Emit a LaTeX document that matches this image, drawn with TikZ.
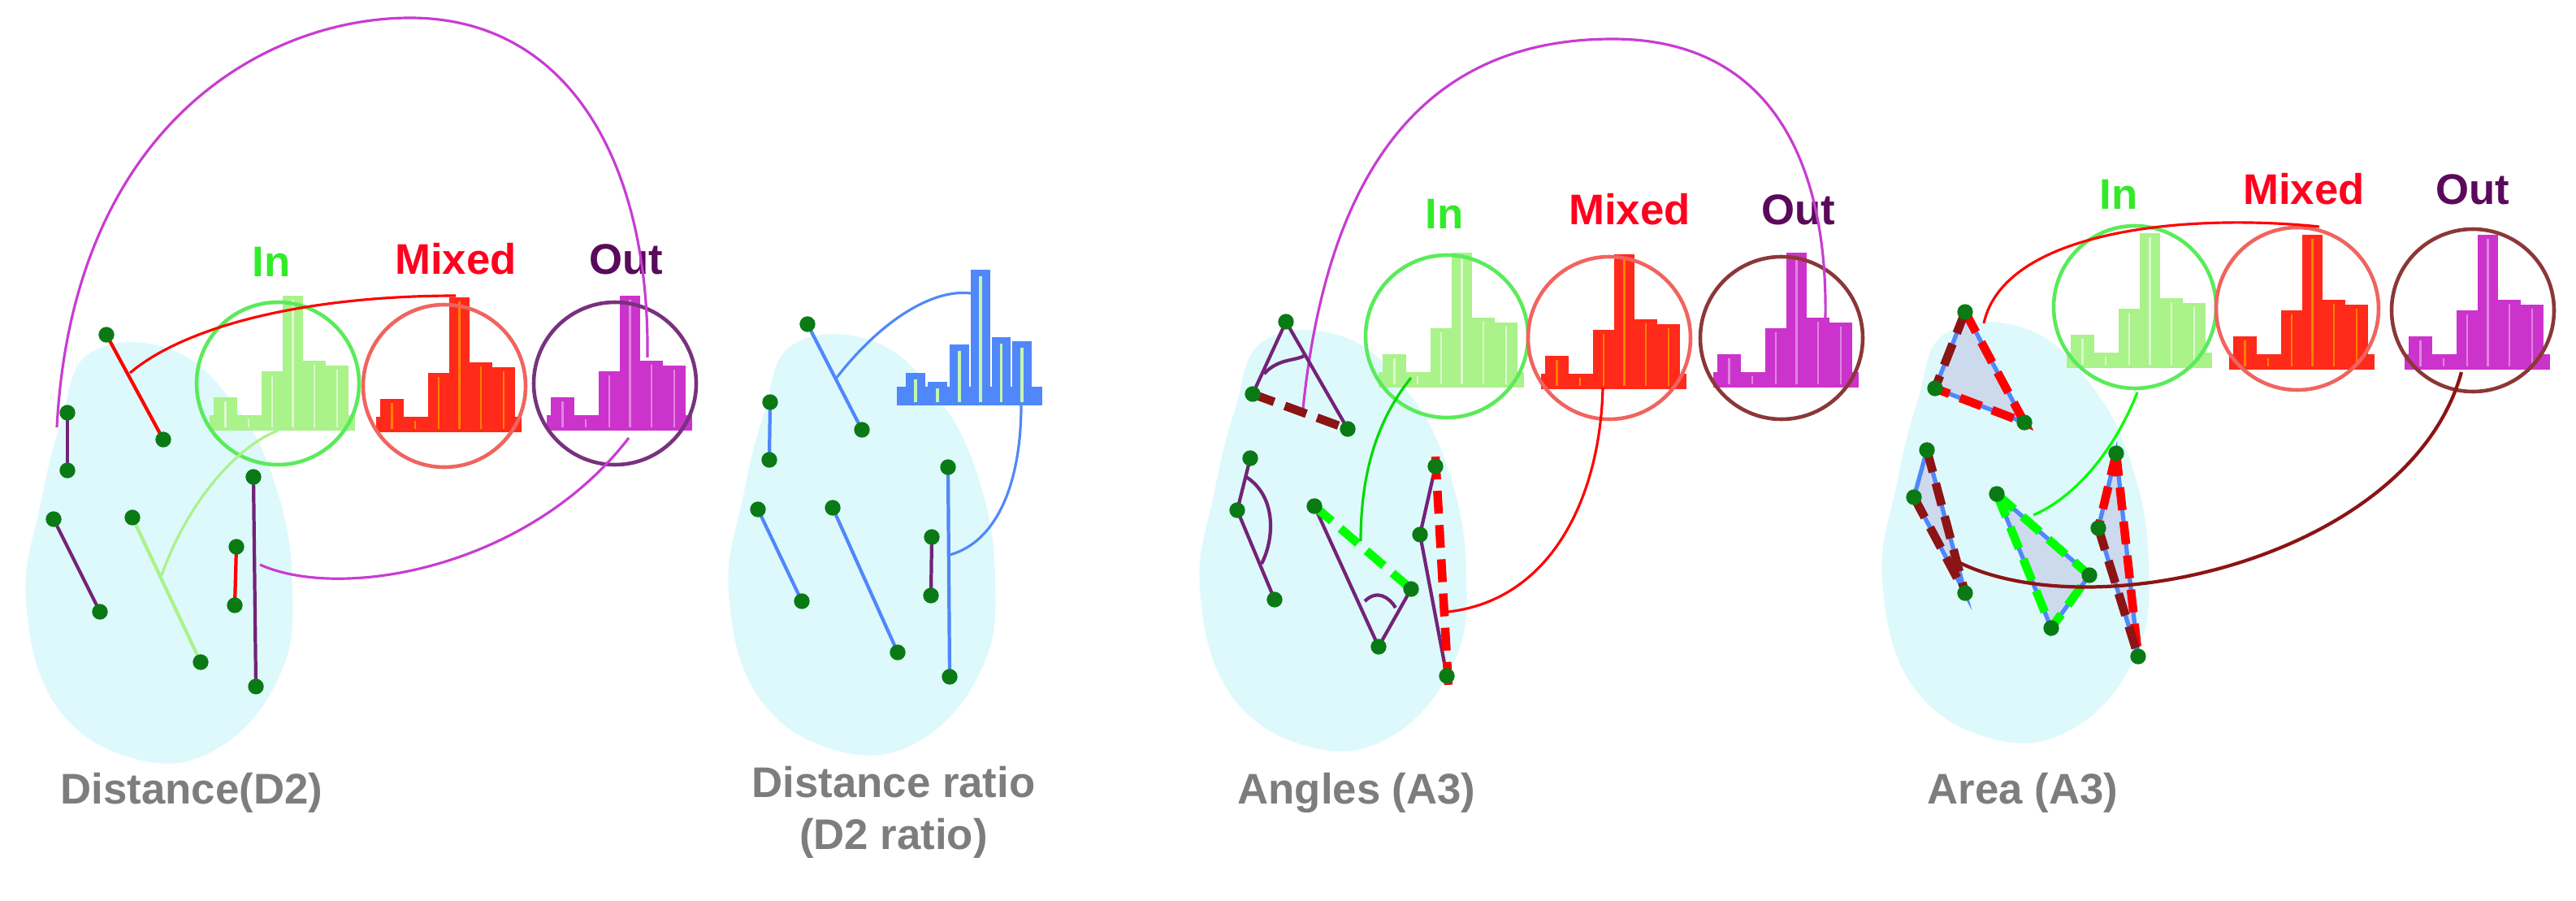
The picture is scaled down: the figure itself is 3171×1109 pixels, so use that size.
\documentclass[tikz,border=0pt]{standalone}
\usepackage{fontspec}
\setmainfont{Liberation Sans}
\begin{document}
\definecolor{cloud}{RGB}{222,249,252}
\definecolor{dotg}{RGB}{10,122,20}
\definecolor{inC}{RGB}{90,235,90}
\definecolor{inH}{RGB}{170,242,138}
\definecolor{mxC}{RGB}{240,100,95}
\definecolor{mxH}{RGB}{255,42,26}
\definecolor{outP}{RGB}{120,50,125}
\definecolor{outB}{RGB}{140,55,55}
\definecolor{outH}{RGB}{204,51,204}
\definecolor{lblIn}{RGB}{50,235,40}
\definecolor{lblMx}{RGB}{255,0,30}
\definecolor{lblOut}{RGB}{90,10,90}
\definecolor{purp}{RGB}{115,35,120}
\definecolor{mag}{RGB}{200,60,210}
\definecolor{dred}{RGB}{140,20,20}
\definecolor{blu}{RGB}{80,135,250}
\definecolor{tri}{RGB}{205,218,238}
\definecolor{gry}{RGB}{125,125,125}
\tikzset{
  dot/.style={circle,fill=dotg,inner sep=0pt,minimum size=5.5pt},
  ring/.style={line width=1.3pt},
  thin/.style={line width=0.9pt},
  seg/.style={line width=1.2pt},
  dsh/.style={line width=3pt,dash pattern=on 8pt off 4pt},
  lbl/.style={font=\fontsize{15}{18}\selectfont\bfseries},
  captxt/.style={font=\fontsize{15}{18}\selectfont\bfseries,text=gry,align=center}
}
\newcommand\myhist[4]{% x, baseline y, fill, stripe
 \begin{scope}[shift={(#1,#2)}]
  \fill[#3] (-84,0) rectangle (95,-19);
  \foreach \a/\b/\h in {-79/-50/41,-50/-22/19,-20/6/73,6/31/166,31/59/86,59/87/80}{
    \fill[#3] (\a,0) rectangle (\b,-\h);
    \draw[#4,line width=0.8pt] ({(\a+\b)/2},-4) -- ({(\a+\b)/2},-\h+5);
  }
 \end{scope}}
\newcommand\mycloud[2]{% shift x,y
 \fill[cloud,shift={(#1,#2)}] plot[smooth cycle,tension=0.7] coordinates {(110,435) (210,430) (290,500) (340,600) (360,720) (345,830) (270,920) (170,935) (70,870) (32,740) (50,620) (75,520)};}
\begin{tikzpicture}[x=0.01cm,y=-0.01cm]
\useasboundingbox (0,0) rectangle (3171,1109);
% ================= Panel 1
\mycloud{0}{0}
\myhist{342}{530}{inH}{white!60!inH}
\myhist{547}{532}{mxH}{orange}
\myhist{757}{530}{outH}{white!40!outH}
\node[circle,draw=inC,ring,minimum size=200*0.01cm,inner sep=0] (in1) at (342,472) {};
\node[circle,draw=mxC,ring,minimum size=200*0.01cm,inner sep=0] (mx1) at (547,475) {};
\node[circle,draw=outP,ring,minimum size=200*0.01cm,inner sep=0] (out1) at (757,472) {};
\node[lbl,text=lblIn] (lin1) at (334,322) {In};
\node[lbl,text=lblMx] (lmx1) at (561,319) {Mixed};
\node[lbl,text=lblOut] (lout1) at (771,319) {Out};
\coordinate (a1) at (131,412); \coordinate (a2) at (201,541);
\coordinate (b1) at (83,508); \coordinate (b2) at (83,579);
\coordinate (c1) at (66,639); \coordinate (c2) at (123,753);
\coordinate (d1) at (163,637); \coordinate (d2) at (247,815);
\coordinate (e1) at (312,587); \coordinate (e2) at (315,845);
\coordinate (f1) at (291,673); \coordinate (f2) at (289,745);
\coordinate (m1) at (797,440); \coordinate (m2) at (774,539); \coordinate (r1) at (561,364); \coordinate (g1) at (342,530);
\draw[mag,thin] (70,526) .. controls (90,150) and (330,22) .. (505,22) .. controls (700,22) and (800,200) .. (m1);
\draw[mag,thin] (320,695) .. controls (420,740) and (650,700) .. (m2);
\draw[red,thin] (160,459) .. controls (230,400) and (380,364) .. (r1);
\draw[inH,thin] (199,708) .. controls (230,620) and (290,550) .. (g1);
\draw[red,seg] (a1) -- (a2);
\draw[purp,seg] (b1) -- (b2);
\draw[purp,seg] (c1) -- (c2);
\draw[inH,seg] (d1) -- (d2);
\draw[purp,seg] (e1) -- (e2);
\draw[red,seg] (f1) -- (f2);
\foreach \p in {a1,a2,b1,b2,c1,c2,d1,d2,e1,e2,f1,f2} \node[dot] at (\p) {};
\node[captxt] (t1) at (236,976) {Distance(D2)};
% ================= Panel 2
\mycloud{865}{-10}
\begin{scope}
 \fill[blu] (1104,476) rectangle (1283,499);
 \foreach \a/\b/\t in {1115/1139/459,1142/1166/470,1169/1193/424,1195/1219/332,1221/1244/415,1246/1270/420}{
  \fill[blu] (\a,499) rectangle (\b,\t);
  \draw[inH!70!white,line width=0.9pt] ({(\a+\b)/2},\t+8) -- ({(\a+\b)/2},495);}
\end{scope}
\coordinate (pa1) at (994,399); \coordinate (pa2) at (1061,529);
\coordinate (pb1) at (948,495); \coordinate (pb2) at (947,566);
\coordinate (pc1) at (933,627); \coordinate (pc2) at (987,740);
\coordinate (pd1) at (1025,625); \coordinate (pd2) at (1105,803);
\coordinate (pe1) at (1167,575); \coordinate (pe2) at (1169,833);
\coordinate (pf1) at (1147,661); \coordinate (pf2) at (1146,733);
\coordinate (ph1) at (1195,361); \coordinate (ph2) at (1257,499);
\draw[blu,thin] (1029,466) .. controls (1083,396) and (1147,355) .. (ph1);
\draw[blu,thin] (ph2) .. controls (1257,595) and (1227,667) .. (1169,683);
\draw[blu,seg] (pa1) -- (pa2);
\draw[blu,seg] (pb1) -- (pb2);
\draw[blu,seg] (pc1) -- (pc2);
\draw[blu,seg] (pd1) -- (pd2);
\draw[blu,seg] (pe1) -- (pe2);
\draw[purp,seg] (pf1) -- (pf2);
\foreach \p in {pa1,pa2,pb1,pb2,pc1,pc2,pd1,pd2,pe1,pe2,pf1,pf2} \node[dot] at (\p) {};
\node[captxt] (t2) at (1100,1000) {Distance ratio\\(D2 ratio)};
% ================= Panel 3
\mycloud{1445}{-15}
\myhist{1781}{477}{inH}{white!60!inH}
\myhist{1981}{479}{mxH}{orange}
\myhist{2193}{477}{outH}{white!40!outH}
\node[circle,draw=inC,ring,minimum size=200*0.01cm,inner sep=0] (in3) at (1781,414) {};
\node[circle,draw=mxC,ring,minimum size=200*0.01cm,inner sep=0] (mx3) at (1981,416) {};
\node[circle,draw=outB,ring,minimum size=200*0.01cm,inner sep=0] (out3) at (2193,416) {};
\node[lbl,text=lblIn] (lin3) at (1778,263) {In};
\node[lbl,text=lblMx] (lmx3) at (2006,258) {Mixed};
\node[lbl,text=lblOut] (lout3) at (2214,258) {Out};
\coordinate (P1) at (1583,396); \coordinate (P2) at (1542,485); \coordinate (P3) at (1659,528);
\coordinate (Q1) at (1539,564); \coordinate (Q2) at (1523,628); \coordinate (Q3) at (1569,738);
\coordinate (R1) at (1618,623); \coordinate (R2) at (1737,725); \coordinate (R3) at (1697,796);
\coordinate (S1) at (1767,574); \coordinate (S2) at (1748,658); \coordinate (S3) at (1781,832);
\draw[mag,thin] (1604,503) .. controls (1640,150) and (1800,48) .. (1985,48) .. controls (2180,48) and (2250,200) .. (2247,391);
\draw[purp,seg] (P2) -- (P1) -- (P3);
\draw[purp,seg] (1556,460) .. controls (1575,440) and (1595,445) .. (1607,437);
\draw[dred,dsh] (P2) -- (P3);
\draw[purp,seg] (Q1) -- (Q2) -- (Q3);
\draw[purp,seg] (1534,587) .. controls (1570,610) and (1570,660) .. (1553,694);
\draw[purp,seg] (R1) -- (R3) -- (R2);
\draw[purp,seg] (1680,740) .. controls (1695,725) and (1710,735) .. (1718,748);
\draw[green,dsh] (R1) -- (R2);
\draw[purp,seg] (S1) -- (S2) -- (S3);
\draw[red,dsh] (1767,562) -- (1783,845);
\draw[green!85!black,thin] (1737,465) .. controls (1694,518) and (1675,585) .. (1675,666);
\draw[red,thin] (1973,477) .. controls (1970,610) and (1911,738) .. (1783,753);
\foreach \p in {P1,P2,P3,Q1,Q2,Q3,R1,R2,R3,S1,S2,S3} \node[dot] at (\p) {};
\node[captxt] (t3) at (1670,976) {Angles (A3)};
% ================= Panel 4
\mycloud{2285}{-25}
\myhist{2628}{453}{inH}{white!60!inH}
\myhist{2828}{455}{mxH}{orange}
\myhist{3044}{455}{outH}{white!40!outH}
\node[circle,draw=inC,ring,minimum size=200*0.01cm,inner sep=0] (in4) at (2628,378) {};
\node[circle,draw=mxC,ring,minimum size=200*0.01cm,inner sep=0] (mx4) at (2828,380) {};
\node[circle,draw=outB,ring,minimum size=200*0.01cm,inner sep=0] (out4) at (3044,382) {};
\node[lbl,text=lblIn] (lin4) at (2608,239) {In};
\node[lbl,text=lblMx] (lmx4) at (2836,233) {Mixed};
\node[lbl,text=lblOut] (lout4) at (3044,233) {Out};
\coordinate (A1) at (2419,384); \coordinate (A2) at (2382,478); \coordinate (A3) at (2492,520);
\coordinate (B1) at (2372,554); \coordinate (B2) at (2356,612); \coordinate (B3) at (2419,730);
\coordinate (C1) at (2458,608); \coordinate (C2) at (2572,708); \coordinate (C3) at (2525,773);
\coordinate (D1) at (2605,558); \coordinate (D2) at (2583,650); \coordinate (D3) at (2632,808);
\draw[red,thin] (2442,398) .. controls (2467,284) and (2689,262) .. (2855,279);
\foreach \u/\v/\w in {A1/A2/A3,B1/B2/B3,C1/C2/C3,D1/D2/D3}{
  \fill[tri] (\u) -- (\v) -- (\w) -- cycle;
  \draw[blu,line width=1.5pt] (\u) -- (\v) -- (\w) -- cycle;}
\draw[red,dsh] (A1) -- (A3) -- (A2);
\draw[dred,dsh] (A1) -- (A2);
\draw[dred,dsh] (B1) -- (B3);
\draw[dred,dsh] (B2) -- (B3);
\draw[green,dsh] (C1) -- (C2) -- (C3) -- cycle;
\draw[red,dsh] (D1) -- (D3);
\draw[dred,dsh] (D2) -- (D3);
\draw[red,dsh] (D1) -- (D2);
\draw[green,thin] (2631,483) .. controls (2600,561) and (2550,614) .. (2503,634);
\draw[dred,line width=1.2pt] (3030,458) .. controls (2967,686) and (2578,775) .. (2411,692);
\foreach \p in {A1,A2,A3,B1,B2,B3,C1,C2,C3,D1,D2,D3} \node[dot] at (\p) {};
\node[captxt] (t4) at (2490,976) {Area (A3)};
\end{tikzpicture}
\end{document}
